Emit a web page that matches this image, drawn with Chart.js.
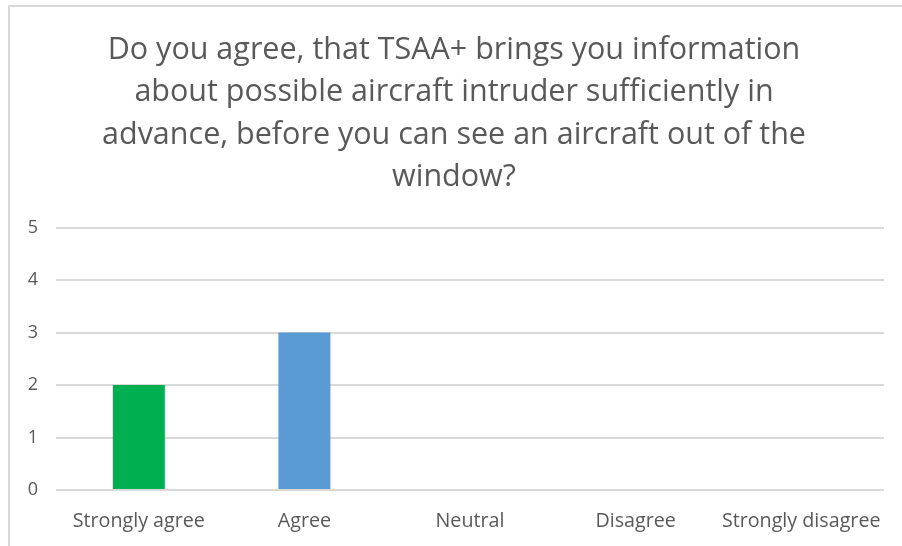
<!DOCTYPE html>
<html>
<head>
<meta charset="utf-8">
<script src="https://cdn.jsdelivr.net/npm/chart.js@4/dist/chart.umd.min.js"></script>
<style>
  html, body { margin: 0; padding: 0; background: #fff; overflow: hidden; }
  #frame {
    position: absolute; left: 8px; top: 5px;
    width: 1000px; height: 700px;
    border-left: 2px solid #d9d9d9; border-top: 2px solid #d9d9d9;
  }
  #box { position: absolute; left: 10px; top: 7px; width: 892px; height: 539px; }
</style>
</head>
<body>
<div id="frame"></div>
<div id="box"><canvas id="answers"></canvas></div>
<script>
var answers = ["Strongly agree", "Agree", "Neutral", "Disagree", "Strongly disagree"];
var counts = [2, 3, 0, 0, 0];
var barColors = ["#00b050", "#5b9bd5", "#5b9bd5", "#5b9bd5", "#5b9bd5"];
var yTicks = [0, 1, 2, 3, 4, 5];
var titleLines = [
  "Do you agree, that TSAA+ brings you information",
  "about possible aircraft intruder sufficiently in",
  "advance, before you can see an aircraft out of the",
  "window?"
];

var grey = "#595959";
var font = "'Open Sans', 'Noto Sans', sans-serif";

new Chart(document.getElementById("answers"), {
  type: "bar",
  data: {
    labels: answers,
    datasets: [{
      data: counts,
      backgroundColor: barColors,
      barPercentage: 1,
      categoryPercentage: 0.314
    }]
  },
  options: {
    responsive: true,
    maintainAspectRatio: false,
    animation: false,
    // left padding nudges the title centre right; the y axis is narrowed to match
    layout: { padding: { left: 14, right: 18, top: 0, bottom: 0 } },
    plugins: {
      legend: { display: false },
      tooltip: { enabled: false },
      title: {
        display: true,
        text: titleLines,
        color: grey,
        font: { family: font, size: 30.5, weight: "normal", lineHeight: 1.39 },
        padding: { top: 22, bottom: 29 }
      }
    },
    scales: {
      x: {
        grid: { display: false },
        border: { display: false },
        ticks: { color: grey, font: { family: font, size: 19.7 }, padding: 12, maxRotation: 0 },
        afterFit: function (s) { s.height = 56; }
      },
      y: {
        min: yTicks[0],
        max: yTicks[yTicks.length - 1],
        border: { display: false },
        grid: { color: "#d9d9d9", lineWidth: 2, drawTicks: false },
        ticks: { stepSize: 1, color: grey, font: { family: font, size: 18 }, padding: 18 },
        afterFit: function (s) { s.width = 32; }
      }
    }
  }
});
</script>
</body>
</html>
